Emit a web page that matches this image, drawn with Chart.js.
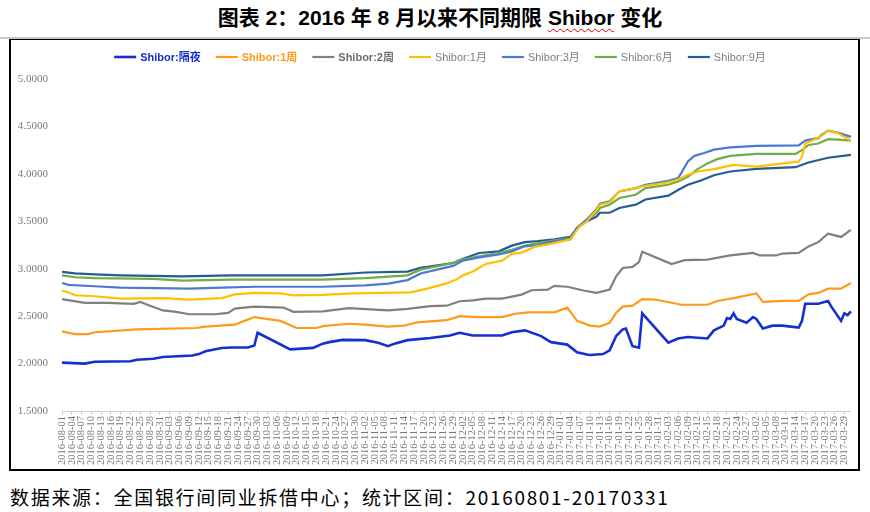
<!DOCTYPE html>
<html><head><meta charset="utf-8">
<script src="https://cdn.jsdelivr.net/npm/chart.js@4.4.1/dist/chart.umd.min.js"></script>
<style>
html,body{margin:0;padding:0;background:#fff;}
body{width:870px;height:512px;position:relative;overflow:hidden;}
#title{position:absolute;left:0;top:6px;width:880px;text-align:center;font:bold 21px/24px "Liberation Sans","Noto Sans CJK SC",sans-serif;color:#000;white-space:nowrap;}
#title .sp{text-decoration:underline wavy #e00000;text-decoration-thickness:1px;text-underline-offset:3px;}
#rule{position:absolute;left:0;top:37px;width:870px;height:2px;background:#c8c8c8;}
#frame{position:absolute;left:9px;top:39px;width:851px;height:432px;box-sizing:border-box;border:2px solid #000;border-top:1px solid #000;}
#c{position:absolute;left:0;top:0;}
#foot{position:absolute;left:10px;top:486px;font:19px/22px "Noto Sans CJK SC",sans-serif;letter-spacing:1.7px;color:#000;white-space:nowrap;}
</style>
</head><body>
<div id="title">图表 2：2016 年 8 月以来不同期限 <span class="sp">Shibor</span> 变化</div>
<div id="rule"></div>
<div id="frame"><canvas id="c" width="847" height="429"></canvas></div>
<div id="foot">数据来源：全国银行间同业拆借中心；统计区间：20160801-20170331</div>
<script>
// ---- categories (calendar days) ----
const dateLabels = [];
for (let t = Date.UTC(2016, 7, 1); t <= Date.UTC(2017, 2, 31); t += 86400000) {
  dateLabels.push(new Date(t).toISOString().slice(0, 10));
}
const yTicks = [1.5, 2.0, 2.5, 3.0, 3.5, 4.0, 4.5, 5.0];

const seriesNames = ['Shibor:隔夜', 'Shibor:1周', 'Shibor:2周', 'Shibor:1月', 'Shibor:3月', 'Shibor:6月', 'Shibor:9月'];

// ---- series values (date, rate %) ----
const overnight = [
 ['2016-08-01',2.01],['2016-08-08',2.00],['2016-08-11',2.02],['2016-08-22',2.025],['2016-08-24',2.04],['2016-08-29',2.05],
 ['2016-09-01',2.07],['2016-09-10',2.085],['2016-09-12',2.10],['2016-09-14',2.13],['2016-09-19',2.165],['2016-09-22',2.17],
 ['2016-09-27',2.17],['2016-09-29',2.19],['2016-09-30',2.325],['2016-10-10',2.15],['2016-10-17',2.165],['2016-10-20',2.21],
 ['2016-10-22',2.226],['2016-10-26',2.25],['2016-11-02',2.247],['2016-11-06',2.22],['2016-11-09',2.184],['2016-11-11',2.21],
 ['2016-11-15',2.247],['2016-11-22',2.27],['2016-11-28',2.296],['2016-12-01',2.325],['2016-12-05',2.296],['2016-12-14',2.296],
 ['2016-12-17',2.33],['2016-12-21',2.35],['2016-12-26',2.29],['2016-12-29',2.226],['2017-01-03',2.20],['2017-01-06',2.12],
 ['2017-01-09',2.096],['2017-01-10',2.09],['2017-01-14',2.10],['2017-01-16',2.14],['2017-01-18',2.29],['2017-01-20',2.36],
 ['2017-01-21',2.37],['2017-01-23',2.184],['2017-01-25',2.167],['2017-01-26',2.53],['2017-02-03',2.22],['2017-02-06',2.265],
 ['2017-02-09',2.28],['2017-02-15',2.265],['2017-02-17',2.35],['2017-02-20',2.40],['2017-02-21',2.48],['2017-02-22',2.47],
 ['2017-02-23',2.53],['2017-02-24',2.47],['2017-02-27',2.43],['2017-03-01',2.49],['2017-03-02',2.47],['2017-03-04',2.37],
 ['2017-03-07',2.40],['2017-03-10',2.40],['2017-03-15',2.38],['2017-03-16',2.45],['2017-03-17',2.63],['2017-03-21',2.63],
 ['2017-03-24',2.66],['2017-03-25',2.60],['2017-03-28',2.45],['2017-03-29',2.53],['2017-03-30',2.51],['2017-03-31',2.55]
];
const week1 = [
 ['2016-08-01',2.34],['2016-08-05',2.31],['2016-08-09',2.31],['2016-08-11',2.33],['2016-08-24',2.36],['2016-09-11',2.375],
 ['2016-09-14',2.39],['2016-09-23',2.41],['2016-09-26',2.45],['2016-09-29',2.49],['2016-10-07',2.45],['2016-10-12',2.375],
 ['2016-10-18',2.375],['2016-10-20',2.395],['2016-10-28',2.42],['2016-11-02',2.41],['2016-11-09',2.39],['2016-11-14',2.40],
 ['2016-11-18',2.435],['2016-11-27',2.457],['2016-12-01',2.50],['2016-12-06',2.49],['2016-12-14',2.49],['2016-12-18',2.525],
 ['2016-12-22',2.54],['2016-12-30',2.54],['2017-01-03',2.59],['2017-01-06',2.45],['2017-01-10',2.40],['2017-01-13',2.39],
 ['2017-01-16',2.43],['2017-01-18',2.535],['2017-01-20',2.60],['2017-01-23',2.61],['2017-01-26',2.68],['2017-01-30',2.675],
 ['2017-02-07',2.62],['2017-02-15',2.62],['2017-02-18',2.66],['2017-02-23',2.69],['2017-03-02',2.74],['2017-03-04',2.65],
 ['2017-03-10',2.66],['2017-03-15',2.66],['2017-03-18',2.73],['2017-03-21',2.745],['2017-03-24',2.79],['2017-03-28',2.79],
 ['2017-03-31',2.85]
];
const week2 = [
 ['2016-08-01',2.68],['2016-08-08',2.64],['2016-08-15',2.64],['2016-08-23',2.63],['2016-08-25',2.65],['2016-08-28',2.61],
 ['2016-09-01',2.56],['2016-09-05',2.545],['2016-09-09',2.52],['2016-09-17',2.52],['2016-09-21',2.535],['2016-09-23',2.58],
 ['2016-09-29',2.60],['2016-10-08',2.59],['2016-10-11',2.545],['2016-10-20',2.55],['2016-10-28',2.584],['2016-11-09',2.56],
 ['2016-11-15',2.577],['2016-11-22',2.605],['2016-11-27',2.61],['2016-12-01',2.657],['2016-12-05',2.667],['2016-12-09',2.685],
 ['2016-12-14',2.685],['2016-12-20',2.727],['2016-12-23',2.773],['2016-12-28',2.78],['2016-12-30',2.82],['2017-01-03',2.81],
 ['2017-01-08',2.77],['2017-01-12',2.745],['2017-01-16',2.78],['2017-01-18',2.92],['2017-01-20',3.008],['2017-01-23',3.02],
 ['2017-01-25',3.07],['2017-01-26',3.18],['2017-02-04',3.05],['2017-02-08',3.09],['2017-02-15',3.096],['2017-02-22',3.14],
 ['2017-03-01',3.166],['2017-03-03',3.14],['2017-03-08',3.14],['2017-03-10',3.16],['2017-03-15',3.166],['2017-03-18',3.235],
 ['2017-03-21',3.28],['2017-03-24',3.37],['2017-03-28',3.335],['2017-03-31',3.41]
];
const month1 = [
 ['2016-08-01',2.77],['2016-08-03',2.75],['2016-08-05',2.72],['2016-08-11',2.71],['2016-08-19',2.685],['2016-09-01',2.69],
 ['2016-09-09',2.675],['2016-09-19',2.69],['2016-09-23',2.73],['2016-09-29',2.745],['2016-10-07',2.74],['2016-10-11',2.72],
 ['2016-10-20',2.725],['2016-10-29',2.74],['2016-11-16',2.75],['2016-11-21',2.79],['2016-11-27',2.845],['2016-11-30',2.885],
 ['2016-12-02',2.93],['2016-12-05',2.97],['2016-12-09',3.05],['2016-12-14',3.085],['2016-12-17',3.156],['2016-12-20',3.17],
 ['2016-12-24',3.23],['2016-12-30',3.27],['2017-01-04',3.31],['2017-01-06',3.41],['2017-01-07',3.45],['2017-01-09',3.50],
 ['2017-01-12',3.62],['2017-01-13',3.675],['2017-01-16',3.70],['2017-01-19',3.815],['2017-01-24',3.85],['2017-01-27',3.875],
 ['2017-02-03',3.91],['2017-02-06',3.94],['2017-02-09',3.99],['2017-02-12',4.025],['2017-02-17',4.05],['2017-02-23',4.095],
 ['2017-03-02',4.077],['2017-03-09',4.106],['2017-03-15',4.13],['2017-03-16',4.18],['2017-03-17',4.32],['2017-03-20',4.365],
 ['2017-03-22',4.40],['2017-03-24',4.456],['2017-03-27',4.43],['2017-03-31',4.35]
];
const month3 = [
 ['2016-08-01',2.85],['2016-08-03',2.83],['2016-08-11',2.815],['2016-08-19',2.80],['2016-09-09',2.79],['2016-09-19',2.80],
 ['2016-09-29',2.81],['2016-10-20',2.81],['2016-11-02',2.825],['2016-11-09',2.843],['2016-11-15',2.88],['2016-11-19',2.95],
 ['2016-11-24',2.99],['2016-11-29',3.03],['2016-12-02',3.085],['2016-12-07',3.12],['2016-12-13',3.15],['2016-12-17',3.183],
 ['2016-12-21',3.236],['2016-12-25',3.25],['2016-12-30',3.29],['2017-01-04',3.31],['2017-01-06',3.43],['2017-01-09',3.52],
 ['2017-01-12',3.63],['2017-01-13',3.685],['2017-01-16',3.71],['2017-01-19',3.815],['2017-01-24',3.85],['2017-01-27',3.885],
 ['2017-02-03',3.927],['2017-02-06',3.955],['2017-02-07',4.01],['2017-02-09',4.13],['2017-02-11',4.19],['2017-02-14',4.22],
 ['2017-02-17',4.255],['2017-02-22',4.28],['2017-03-02',4.295],['2017-03-15',4.30],['2017-03-17',4.35],['2017-03-21',4.376],
 ['2017-03-22',4.41],['2017-03-24',4.456],['2017-03-27',4.435],['2017-03-31',4.39]
];
const month6 = [
 ['2016-08-01',2.93],['2016-08-05',2.91],['2016-08-11',2.90],['2016-08-29',2.893],['2016-09-07',2.875],['2016-09-22',2.885],
 ['2016-10-20',2.885],['2016-11-02',2.90],['2016-11-15',2.93],['2016-11-19',2.99],['2016-11-29',3.06],['2016-12-02',3.10],
 ['2016-12-07',3.13],['2016-12-13',3.166],['2016-12-17',3.20],['2016-12-21',3.243],['2016-12-30',3.30],['2017-01-04',3.32],
 ['2017-01-06',3.43],['2017-01-09',3.51],['2017-01-12',3.59],['2017-01-13',3.64],['2017-01-16',3.675],['2017-01-19',3.745],
 ['2017-01-24',3.78],['2017-01-27',3.85],['2017-02-03',3.885],['2017-02-06',3.92],['2017-02-09',3.97],['2017-02-12',4.05],
 ['2017-02-15',4.11],['2017-02-18',4.155],['2017-02-22',4.19],['2017-03-02',4.21],['2017-03-14',4.21],['2017-03-16',4.25],
 ['2017-03-18',4.305],['2017-03-21',4.32],['2017-03-24',4.365],['2017-03-27',4.36],['2017-03-31',4.35]
];
const month9 = [
 ['2016-08-01',2.966],['2016-08-05',2.95],['2016-08-11',2.94],['2016-08-19',2.93],['2016-09-07',2.92],['2016-09-22',2.93],
 ['2016-10-20',2.93],['2016-11-02',2.96],['2016-11-15',2.97],['2016-11-19',3.01],['2016-11-29',3.06],['2016-12-02',3.106],
 ['2016-12-07',3.166],['2016-12-13',3.183],['2016-12-17',3.243],['2016-12-21',3.28],['2016-12-25',3.29],['2016-12-30',3.31],
 ['2017-01-04',3.335],['2017-01-06',3.43],['2017-01-09',3.50],['2017-01-12',3.55],['2017-01-13',3.59],['2017-01-16',3.59],
 ['2017-01-19',3.64],['2017-01-24',3.675],['2017-01-27',3.73],['2017-02-03',3.77],['2017-02-06',3.83],['2017-02-09',3.885],
 ['2017-02-13',3.93],['2017-02-17',3.985],['2017-02-22',4.025],['2017-03-02',4.053],['2017-03-14',4.07],['2017-03-18',4.12],
 ['2017-03-24',4.17],['2017-03-31',4.20]
];

// ---- styles ----
const seriesColors = ['#1530CF', '#FF9A1A', '#808080', '#FFC000', '#4A7BD0', '#70AD47', '#235D94'];
const seriesWidths = [2.6, 2.2, 2.2, 2.2, 2.2, 2.2, 2.2];
const legendTextColors = ['#1530CF', '#FF9A1A', '#6e6e6e', '#7f7f7f', '#7f7f7f', '#7f7f7f', '#7f7f7f'];
const legendBold = [true, true, true, false, false, false, false];

const allSeries = [overnight, week1, week2, month1, month3, month6, month9];
const datasets = allSeries.map((s, i) => ({
  label: seriesNames[i],
  data: s.map(([d, v]) => ({ x: d, y: v })),
  borderColor: seriesColors[i],
  backgroundColor: seriesColors[i],
  borderWidth: seriesWidths[i],
  pointRadius: 0,
  tension: 0,
  fill: false
}));

const customLegend = {
  id: 'customLegend',
  afterDraw(chart) {
    const ctx = chart.ctx;
    const lineLen = 22, gap = 4, spacing = 15, centerX = 429, y = 17;
    const fam = '"Liberation Sans","Noto Sans CJK SC",sans-serif';
    const items = chart.data.datasets.map((ds, i) => {
      const font = (legendBold[i] ? 'bold ' : '') + '11px ' + fam;
      ctx.font = font;
      return { ds, i, font, w: ctx.measureText(ds.label).width };
    });
    const total = items.reduce((a, it) => a + lineLen + gap + it.w, 0) + spacing * (items.length - 1);
    let x = centerX - total / 2;
    ctx.save();
    items.forEach(it => {
      ctx.strokeStyle = it.ds.borderColor;
      ctx.lineWidth = it.ds.borderWidth;
      ctx.beginPath();
      ctx.moveTo(x, y); ctx.lineTo(x + lineLen, y); ctx.stroke();
      ctx.font = it.font;
      ctx.fillStyle = legendTextColors[it.i];
      ctx.textBaseline = 'middle';
      ctx.textAlign = 'left';
      ctx.fillText(it.ds.label, x + lineLen + gap, y + 1);
      x += lineLen + gap + it.w + spacing;
    });
    ctx.restore();
  }
};

new Chart(document.getElementById('c'), {
  type: 'line',
  data: { labels: dateLabels, datasets },
  options: {
    responsive: false,
    animation: false,
    devicePixelRatio: 1,
    layout: { padding: { top: 39, right: 6, left: 0, bottom: 0 } },
    plugins: { legend: { display: false }, title: { display: false }, tooltip: { enabled: false } },
    scales: {
      x: {
        type: 'category',
        offset: false,
        grid: { display: true, drawOnChartArea: false, drawTicks: true, tickLength: 4, color: '#d0d0d0' },
        border: { display: true, color: '#d0d0d0' },
        ticks: {
          autoSkip: false, maxRotation: 90, minRotation: 90, padding: 1,
          color: '#7a7a7a', font: { family: '"Liberation Serif"', size: 10.5 },
          callback: function (v, i) { return i % 3 === 0 ? this.getLabelForValue(v) : null; }
        },
        afterFit: s => { s.height = 58; }
      },
      y: {
        min: yTicks[0], max: yTicks[yTicks.length - 1],
        afterBuildTicks: s => { s.ticks = yTicks.map(v => ({ value: v })); },
        grid: { display: false, drawTicks: false },
        border: { display: false },
        ticks: {
          padding: 14, color: '#7a7a7a', font: { family: '"Liberation Serif"', size: 11 },
          callback: v => Number(v).toFixed(4)
        },
        afterFit: s => { s.width = 51; }
      }
    }
  },
  plugins: [customLegend]
});
</script>
</body></html>
